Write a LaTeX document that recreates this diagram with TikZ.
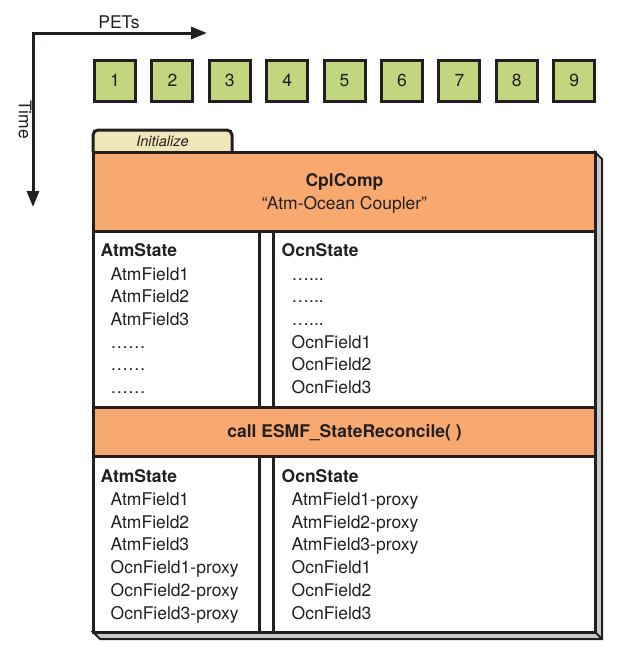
\documentclass[tikz,border=0pt]{standalone}
\usepackage{fontspec}
\setmainfont{TeX Gyre Heros}
\usetikzlibrary{arrows.meta}
\definecolor{petgreen}{HTML}{C2D57F}
\definecolor{cplorange}{HTML}{F8A96F}
\definecolor{tabyellow}{HTML}{F1E6B8}
\definecolor{shadowgray}{HTML}{C8C9CB}
\definecolor{inkblack}{HTML}{231F20}
\newcommand{\ocndots}{…...}

\begin{document}
\begin{tikzpicture}[x=1pt, y=-1pt,
        txt/.style={font=\fontsize{17.5}{21}\selectfont, inner sep=0pt, text=inkblack},
        hd/.style={txt, font=\fontsize{17.5}{21}\selectfont\bfseries, anchor=base west},
        fld/.style={txt, anchor=base west},
        boxline/.style={draw=inkblack, line width=3pt},
        petbox/.style={boxline, fill=petgreen, minimum size=41pt, txt}]
        \useasboundingbox (0,0) rectangle (633,662);

        % PET and time axes
        \coordinate (timeend) at (33,207);
        \coordinate (petend) at (207,33);
        \draw[inkblack, line width=3pt, {Triangle[length=16pt, width=12pt]}-{Triangle[length=16pt, width=12pt]}] (timeend) |- (petend);
        \node[txt, anchor=base] (petlabel) at (119,28.5) {PETs};
        \node[txt, rotate=-90] (timelabel) at (25,119.5) {Time};

        % one box per PET
        \foreach \i in {1,...,9}
            \node[petbox] (pet\i) at ({115+57.4*(\i-1)},80.5) {\i};

        % shadow of the component
        \filldraw[draw=inkblack, line width=2pt, fill=shadowgray] (595,152) -- (602,159) -- (602,639) -- (100,639) -- (93,632) -- (595,632) -- cycle;
        \draw[inkblack, line width=2pt] (595,632) -- (602,639);

        % Initialize tab
        \draw[boxline, fill=tabyellow, rounded corners=5pt] (93,152) -- (93,130) -- (232,130) -- (232,152);
        \node[txt, font=\fontsize{14.5}{17}\selectfont\itshape] (tab) at (162.5,141.5) {Initialize};

        % component frame
        \fill[cplorange] (93,152) rectangle (595,231);
        \fill[cplorange] (93,407) rectangle (595,456);
        \draw[boxline] (93,152) rectangle (595,632);
        \draw[boxline] (93,231) -- (595,231) (93,407) -- (595,407) (93,456) -- (595,456);
        \draw[boxline] (259.5,231) -- (259.5,407) (273.5,231) -- (273.5,407);
        \draw[boxline] (259.5,456) -- (259.5,632) (273.5,456) -- (273.5,632);

        \node[hd, anchor=base] (cplcomp) at (344.5,186) {CplComp};
        \node[txt, anchor=base] (cplname) at (344.5,209.3) {“Atm-Ocean Coupler”};
        \node[hd, anchor=base] (reconcile) at (344.5,437.5) {call ESMF\_StateReconcile( )};

        % states before reconcile
        \node[hd] (atmbefore) at (100.5,256) {AtmState};
        \foreach \f [count=\k] in {AtmField1, AtmField2, AtmField3, ……, ……, ……}
            \node[fld] (atmbefore\k) at (110.5,{257.3+22.7*\k}) {\f};
        \node[hd] (ocnbefore) at (281.5,256) {OcnState};
        \foreach \f [count=\k] in {\ocndots, \ocndots, \ocndots, OcnField1, OcnField2, OcnField3}
            \node[fld] (ocnbefore\k) at (291.5,{257.3+22.7*\k}) {\f};

        % states after reconcile
        \node[hd] (atmafter) at (100.5,482) {AtmState};
        \foreach \f [count=\k] in {AtmField1, AtmField2, AtmField3, OcnField1-proxy, OcnField2-proxy, OcnField3-proxy}
            \node[fld] (atmafter\k) at (110.5,{482.4+22.85*\k}) {\f};
        \node[hd] (ocnafter) at (281.5,482) {OcnState};
        \foreach \f [count=\k] in {AtmField1-proxy, AtmField2-proxy, AtmField3-proxy, OcnField1, OcnField2, OcnField3}
            \node[fld] (ocnafter\k) at (291.5,{482.4+22.85*\k}) {\f};
    \end{tikzpicture}
\end{document}
